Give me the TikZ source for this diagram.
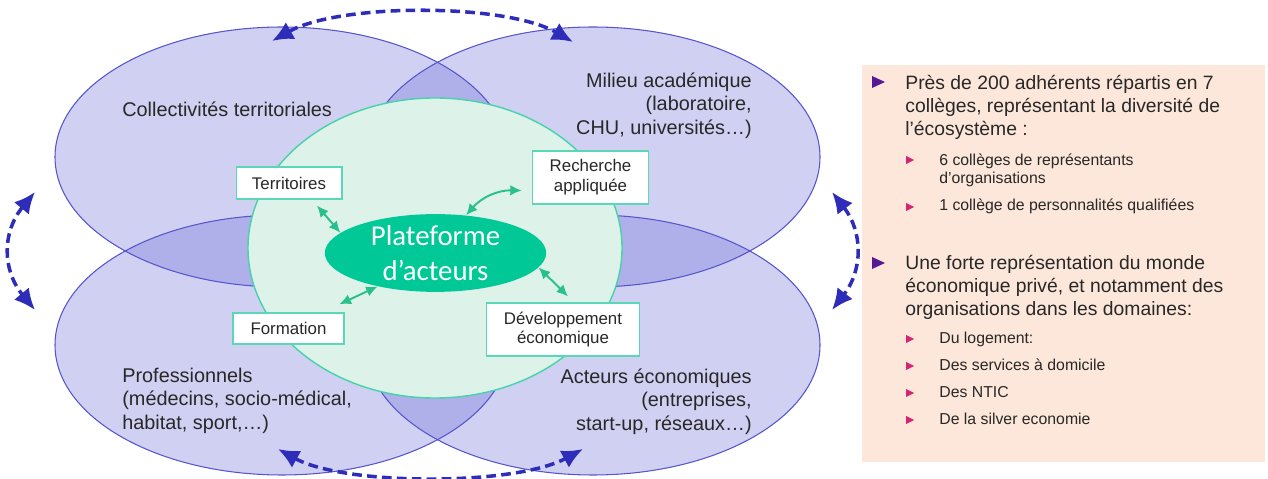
\documentclass[tikz,border=0pt]{standalone}
\usepackage{fontspec}
\setmainfont{Liberation Sans}
\newfontfamily\carlito{Carlito}
\usetikzlibrary{arrows.meta,calc,shapes.geometric}

\definecolor{ellfill}{RGB}{108,108,214}
\definecolor{ellline}{RGB}{85,85,205}
\definecolor{mint}{RGB}{221,242,233}
\definecolor{mintline}{RGB}{70,210,170}
\definecolor{platgreen}{RGB}{0,200,150}
\definecolor{boxline}{RGB}{90,215,185}
\definecolor{gline}{RGB}{40,192,140}
\definecolor{dashblue}{RGB}{45,45,185}
\definecolor{peach}{RGB}{252,231,218}
\definecolor{purp}{RGB}{85,25,150}
\definecolor{pinkb}{RGB}{215,35,115}
\definecolor{txt}{RGB}{40,40,40}

\tikzset{
  zone/.style={fill=ellfill, fill opacity=0.32},
  zoneline/.style={draw=ellline, line width=0.6pt},
  lab/.style={inner sep=0pt, text=txt, font=\fontsize{11.3}{13.6}\selectfont},
  tbox/.style={draw=boxline, line width=0.9pt, fill=white, inner sep=0pt, text=txt, align=center, font=\fontsize{9.6}{11.3}\selectfont},
  platform/.style={ellipse, fill=platgreen, text=white, inner sep=0pt, align=center, minimum width=126pt, minimum height=43pt, font=\carlito\fontsize{16.4}{19.8}\selectfont},
  link/.style={draw=gline, line width=1.1pt, {Latex[length=6.5pt,width=6pt]}-{Latex[length=6.5pt,width=6pt]}},
  exchange/.style={draw=dashblue, line width=2pt, dash pattern=on 5.5pt off 3pt, {Latex[length=12pt,width=11pt]}-{Latex[length=12pt,width=11pt]}},
  para/.style={inner sep=0pt, anchor=north west, align=left, text=txt, font=\fontsize{11}{13.3}\selectfont},
  subpara/.style={inner sep=0pt, anchor=north west, align=left, text=txt, font=\fontsize{9}{10.2}\selectfont}
}

\begin{document}
\begin{tikzpicture}[x=0.02cm, y=-0.02cm]
\useasboundingbox (0,0) rectangle (1268,479);

% four actor groups
\foreach \cx/\cy in {282/157, 593/157, 282/345, 593/345}
  \fill[zone] (\cx,\cy) ellipse [x radius=227, y radius=130];
\foreach \cx/\cy in {282/157, 593/157, 282/345, 593/345}
  \draw[zoneline] (\cx,\cy) ellipse [x radius=227, y radius=130];
\draw[draw=mintline, fill=mint, line width=0.8pt] (435,248) ellipse [x radius=187, y radius=150];

\node[lab, anchor=north west] (coll) at (122,99) {\strut Collectivités territoriales};
\node[lab, anchor=north east, align=right] (acad) at (752,70) {\strut Milieu académique\\(laboratoire,\\CHU, universités…)};
\node[lab, anchor=north west, align=left] (pro) at (122,365) {\strut Professionnels\\(médecins, socio-médical,\\habitat, sport,…)};
\node[lab, anchor=north east, align=right] (eco) at (752,366) {\strut Acteurs économiques\\(entreprises,\\start-up, réseaux…)};

% platform and themes
\node[platform] (plat) at (435.5,253) {Plateforme\\d’acteurs};
\node[tbox, minimum width=60pt, minimum height=18pt] (terr) at (289,183) {Territoires};
\node[tbox, minimum width=66pt, minimum height=30pt] (rech) at (590.5,177.5) {Recherche\\appliquée};
\node[tbox, minimum width=63pt, minimum height=17.6pt] (form) at (288.5,328.5) {Formation};
\node[tbox, minimum width=87pt, minimum height=30pt] (dev) at (563,329.5) {Développement\\économique};

\draw[link] ($(terr.south)+(28,6)$) -- (plat.168);
\draw[link] (plat.51) to[bend left=25] ($(rech.west)+(-10,13)$);
\draw[link] ($(form.north)+(51,-8)$) -- (plat.210);
\draw[link] (plat.-8) -- ($(dev.north)+(5,-6)$);

% exchanges between groups
\coordinate (t1) at (272,41);
\coordinate (t2) at (573,42);
\coordinate (b1) at (278,449);
\coordinate (b2) at (583,449);
\coordinate (l1) at (35,192);
\coordinate (l2) at (35,310);
\coordinate (r1) at (832,192);
\coordinate (r2) at (832,310);
\draw[exchange] (t1) .. controls (340,3) and (505,3) .. (t2);
\draw[exchange] (b1) .. controls (345,486) and (515,486) .. (b2);
\draw[exchange] (l1) .. controls (2,232) and (2,270) .. (l2);
\draw[exchange] (r1) .. controls (863,232) and (863,270) .. (r2);

% right panel
\fill[peach] (862,65) rectangle (1265,462);
\foreach \y in {82,263}
  \fill[purp] (872,\y-6) -- (885,\y) -- (872,\y+6) -- cycle;
\foreach \y in {160,207,339,366,393,420}
  \fill[pinkb] (906,\y-4) -- (914,\y) -- (906,\y+4) -- cycle;

\node[para] (p1) at (905,72.5) {\strut Près de 200 adhérents répartis en 7\\collèges, représentant la diversité de\\l’écosystème :};
\node[subpara] (s1) at (939,152.5) {\strut 6 collèges de représentants\\d’organisations};
\node[subpara] (s2) at (939,197.5) {\strut 1 collège de personnalités qualifiées};
\node[para] (p2) at (905,252.5) {\strut Une forte représentation du monde\\économique privé, et notamment des\\organisations dans les domaines:};
\node[subpara] (s3) at (939,330.5) {\strut Du logement:};
\node[subpara] (s4) at (939,357.5) {\strut Des services à domicile};
\node[subpara] (s5) at (939,384.5) {\strut Des NTIC};
\node[subpara] (s6) at (939,411.5) {\strut De la silver economie};
\end{tikzpicture}
\end{document}
